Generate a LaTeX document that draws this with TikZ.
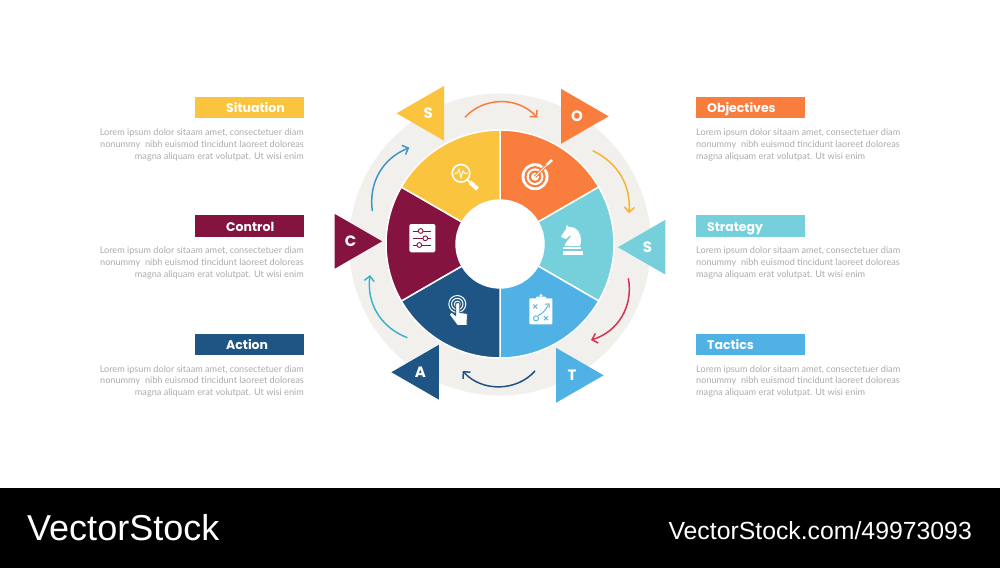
\documentclass[tikz,border=0pt]{standalone}
\usepackage{fontspec}
\setmainfont{Lato}
\newfontfamily\headfont{Poppins}
\newfontfamily\markfont{Liberation Sans}
\usetikzlibrary{positioning, shapes.geometric, arrows.meta}
\definecolor{sitcol}{HTML}{FAC43F}
\definecolor{objcol}{HTML}{F97D3D}
\definecolor{strcol}{HTML}{75D0DB}
\definecolor{taccol}{HTML}{4FB1E4}
\definecolor{actcol}{HTML}{1F5585}
\definecolor{concol}{HTML}{841340}
\definecolor{ringcol}{HTML}{F1F0ED}
\tikzset{
	>={Straight Barb[length=5pt,width=10pt]}, % open arrow heads
	tip/.style={regular polygon, regular polygon sides=3, minimum size=63.2pt, inner sep=0pt, outer sep=0pt, text=white, font=\headfont\bfseries\fontsize{15}{15}\selectfont}, % the six triangles
	flow/.style={->, line width=1.5pt}, % arrows round the ring
	labelbox/.style={minimum width=109pt, minimum height=21.5pt, inner sep=0pt, outer sep=0pt}, % coloured title bars
	labeltext/.style={anchor=west, inner sep=0pt, text height=10pt, text depth=0pt, text=white, font=\headfont\bfseries\fontsize{12.5}{12.5}\selectfont}, % title inside a bar
	lorem/.style={inner sep=0pt, text=black!33, font=\fontsize{9.15}{11.8}\selectfont}, % grey body text
}

\begin{document}
\begin{tikzpicture}[x=1pt, y=-1pt]
	\useasboundingbox (0,0) rectangle (1000,568);
	\coordinate (hub) at (500,244);

	% ring and wheel
	\fill[ringcol] (500,244.5) circle[radius=151pt];
	\foreach \a/\c in {30/objcol, -30/strcol, -90/taccol, -150/actcol, 150/concol, 90/sitcol}
		\filldraw[fill=\c, draw=white, line width=1.5pt] ([shift={(\a:44pt)}]hub) arc[start angle=\a, delta angle=60, radius=44pt]
			-- ([shift={(\a+60:114pt)}]hub) arc[start angle=\a+60, delta angle=-60, radius=114pt] -- cycle;
	\fill[white] (hub) circle[radius=44pt];

	% triangles
	\node[tip, fill=sitcol, shape border rotate=90] (s) at (428.2,113.3) {S};
	\node[tip, fill=objcol, shape border rotate=-90] (o) at (577,116.3) {O};
	\node[tip, fill=strcol, shape border rotate=90] (st) at (649.5,247.2) {\hspace*{-4pt}S};
	\node[tip, fill=taccol, shape border rotate=-90] (t) at (572,375.3) {T};
	\node[tip, fill=actcol, shape border rotate=90] (a) at (423,372.2) {\hspace*{-5pt}A};
	\node[tip, fill=concol, shape border rotate=-90] (c) at (350.5,241.3) {C};

	% arrows
	\coordinate (sout) at (465,117.3);
	\coordinate (oin) at (537.3,117.7);
	\coordinate (oout) at (592.7,150.7);
	\coordinate (stin) at (629,213.3);
	\coordinate (stout) at (628.3,278.3);
	\coordinate (tin) at (591,340);
	\coordinate (tout) at (535,371);
	\coordinate (ain) at (462.7,371);
	\coordinate (aout) at (407.3,337.7);
	\coordinate (cin) at (370,275);
	\coordinate (cout) at (372.3,211);
	\coordinate (sin) at (409.3,147.7);
	\draw[flow, objcol] (sout) to[bend left=48] (oin);
	\draw[flow, color={rgb,255:red,249;green,178;blue,51}] (oout) to[bend left=34] (stin);
	\draw[flow, color={rgb,255:red,210;green,52;blue,79}] (stout) to[bend left=42] (tin);
	\draw[flow, actcol] (tout) to[bend left=48] (ain);
	\draw[flow, color={rgb,255:red,58;green,181;blue,200}] (aout) to[bend left=38] (cin);
	\draw[flow, color={rgb,255:red,63;green,151;blue,196}] (cout) to[bend left=38] (sin);

	% magnifier
	\draw[white, line width=1.6pt] (461,173.3) circle[radius=8.8pt];
	\draw[white, line width=1pt] (454.5,173.3) -- (457,173.3) -- (459,169.5) -- (461,177.5) -- (463,171) -- (465,173.3) -- (467.5,173.3);
	\draw[white, line width=1.6pt] (467.5,180) -- (470,182.2);
	\draw[white, line width=4.2pt] (470,182.2) -- (477.5,189);

	% target
	\fill[white] (535,176.7) circle[radius=13.5pt];
	\fill[objcol] (535,176.7) circle[radius=10.6pt];
	\fill[white] (535,176.7) circle[radius=8.4pt];
	\fill[objcol] (535,176.7) circle[radius=6.2pt];
	\fill[white] (535,176.7) circle[radius=4pt];
	\draw[objcol, line width=3pt] (535,176.7) -- (548,163.8);
	\draw[white, line width=1pt] (535,176.7) -- (548,163.8);
	\draw[white, line width=2.6pt] (547,164.6) -- (552,160);

	% knight
	\fill[white] (566.5,225) -- (569,227) .. controls (577,226.5) and (581,233) .. (581,240) .. controls (581,243) and (580.5,245) .. (580,246)
		-- (564.5,246) .. controls (565,242) and (569,240) .. (571,236) -- (570,235.5) -- (566,239) -- (562,237.5) -- (561,236.5) -- (566,229) -- cycle;
	\fill[white] (563.3,247) rectangle (580.5,249.2);
	\fill[white] (562.7,251) rectangle (583.3,255.2);

	% clipboard
	\fill[white, rounded corners=1pt] (529.3,298.3) rectangle (552.3,324.3);
	\fill[white, rounded corners=1pt] (536,296.5) rectangle (546,300);
	\fill[white] (541,295.5) circle[radius=1.6pt];
	\draw[taccol, line width=0.9pt] (533.3,304.5) -- (537.3,308.5) (537.3,304.5) -- (533.3,308.5);
	\draw[taccol, line width=0.9pt] (544,316.2) -- (548,320.2) (548,316.2) -- (544,320.2);
	\draw[taccol, line width=0.9pt] (536,318.3) circle[radius=2.5pt];
	\draw[taccol, line width=0.9pt] (538,315.5) .. controls (543,314) and (546,309) .. (548.5,304.5);
	\draw[taccol, line width=0.9pt] (544.8,304.3) -- (549,303.8) -- (549.3,308);

	% touch
	\draw[white, line width=1pt] (457.3,304) circle[radius=8.5pt];
	\draw[white, line width=1pt] (457.3,304) circle[radius=5.7pt];
	\draw[white, line width=1pt] (457.3,304) circle[radius=2.9pt];
	\draw[actcol, line width=0.8pt, fill=white] (455.8,304) .. controls (455.8,302) and (459.8,302) .. (459.8,304) -- (459.8,312.5) -- (467.3,313.5) -- (467,325.5) -- (457.3,325.5) -- (449,314.3) -- (451.7,312.3) -- (455.8,315.5) -- cycle;

	% sliders
	\fill[white, rounded corners=1.5pt] (409.3,224) rectangle (435.3,252.3);
	\draw[concol, line width=0.9pt] (413.3,231) -- (430.7,231) (413.3,238.3) -- (430.7,238.3) (413.3,245) -- (430.7,245);
	\filldraw[fill=white, draw=concol, line width=0.9pt] (420.7,231) circle[radius=2.4pt] (425.3,238.3) circle[radius=2.4pt] (419.3,245) circle[radius=2.4pt];

	% title bars
	\node[labelbox, fill=sitcol] (situation) at (249.5,107.7) {};
	\node[labelbox, fill=concol] (control) at (249.5,226) {};
	\node[labelbox, fill=actcol] (action) at (249.5,344.3) {};
	\node[labelbox, fill=objcol] (objectives) at (750.5,107.7) {};
	\node[labelbox, fill=strcol] (strategy) at (750.5,226) {};
	\node[labelbox, fill=taccol] (tactics) at (750.5,344.3) {};
	\node[labeltext] (situationname) at ([xshift=31pt]situation.west) {Situation};
	\node[labeltext] (controlname) at ([xshift=31pt]control.west) {Control};
	\node[labeltext] (actionname) at ([xshift=31pt]action.west) {Action};
	\node[labeltext] (objectivesname) at ([xshift=11pt]objectives.west) {Objectives};
	\node[labeltext] (strategyname) at ([xshift=11pt]strategy.west) {Strategy};
	\node[labeltext] (tacticsname) at ([xshift=11pt]tactics.west) {Tactics};

	% body text
	\node[lorem, align=right, below left=10.2pt and 0pt of situation.south east] (situationtext) {Lorem ipsum dolor sitaam amet, consectetuer diam\\nonummy\ \ nibh euismod tincidunt laoreet doloreas\\magna aliquam erat volutpat. Ut wisi enim};
	\node[lorem, align=right, below left=10.2pt and 0pt of control.south east] (controltext) {Lorem ipsum dolor sitaam amet, consectetuer diam\\nonummy\ \ nibh euismod tincidunt laoreet doloreas\\magna aliquam erat volutpat. Ut wisi enim};
	\node[lorem, align=right, below left=10.2pt and 0pt of action.south east] (actiontext) {Lorem ipsum dolor sitaam amet, consectetuer diam\\nonummy\ \ nibh euismod tincidunt laoreet doloreas\\magna aliquam erat volutpat. Ut wisi enim};
	\node[lorem, align=left, below right=10.2pt and 0pt of objectives.south west] (objectivestext) {Lorem ipsum dolor sitaam amet, consectetuer diam\\nonummy\ \ nibh euismod tincidunt laoreet doloreas\\magna aliquam erat volutpat. Ut wisi enim};
	\node[lorem, align=left, below right=10.2pt and 0pt of strategy.south west] (strategytext) {Lorem ipsum dolor sitaam amet, consectetuer diam\\nonummy\ \ nibh euismod tincidunt laoreet doloreas\\magna aliquam erat volutpat. Ut wisi enim};
	\node[lorem, align=left, below right=10.2pt and 0pt of tactics.south west] (tacticstext) {Lorem ipsum dolor sitaam amet, consectetuer diam\\nonummy\ \ nibh euismod tincidunt laoreet doloreas\\magna aliquam erat volutpat. Ut wisi enim};

	% footer
	\fill[black] (0,488) rectangle (1000,568);
	\node[anchor=west, inner sep=0pt, text=white, font=\markfont\fontsize{36}{36}\selectfont] (brand) at (27,527.5) {VectorStock};
	\node[anchor=east, inner sep=0pt, text=white, font=\markfont\fontsize{24.8}{24.8}\selectfont] (brandurl) at (972,530.5) {VectorStock.com/49973093};
\end{tikzpicture}
\end{document}
